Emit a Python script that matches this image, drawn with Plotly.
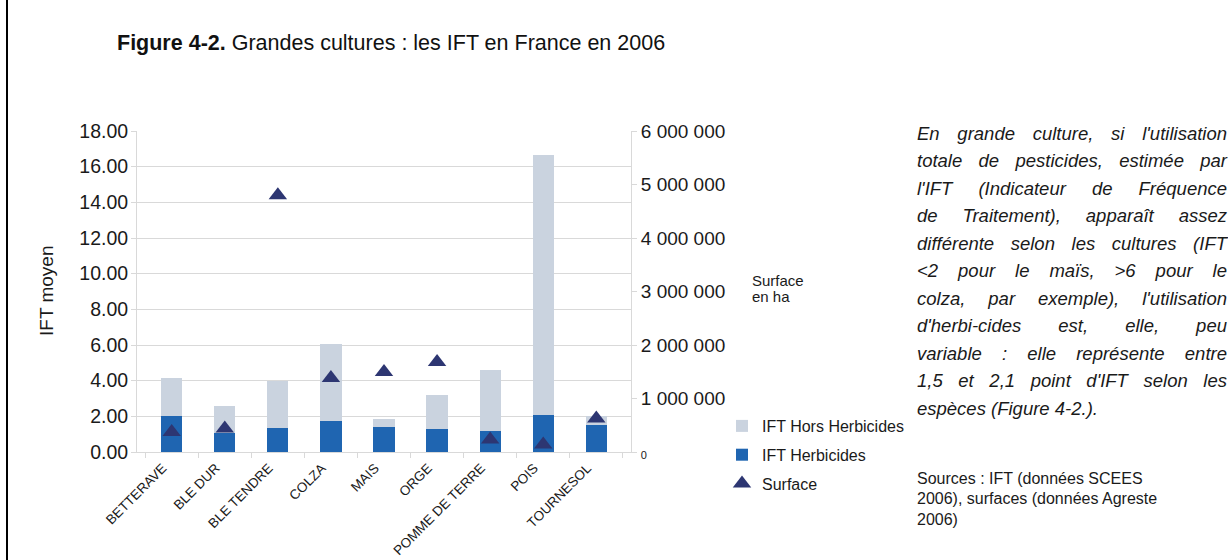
import plotly.graph_objects as go

# ---------------- data ----------------
categories = ["BETTERAVE", "BLE DUR", "BLE TENDRE", "COLZA", "MAIS",
              "ORGE", "POMME DE TERRE", "POIS", "TOURNESOL"]
ift_herbicides = [2.00, 1.07, 1.35, 1.72, 1.40, 1.27, 1.18, 2.06, 1.54]
ift_hors_herbicides = [2.17, 1.53, 2.63, 4.32, 0.45, 1.91, 3.40, 14.58, 0.46]
surface_ha = [375000, 437000, 4800000, 1385000, 1495000, 1680000, 232000, 138000, 624000]

left_ticks = [0, 2, 4, 6, 8, 10, 12, 14, 16, 18]
right_ticks = [0, 1000000, 2000000, 3000000, 4000000, 5000000, 6000000]

title_bold = "Figure 4-2."
title_rest = "Grandes cultures : les IFT en France en 2006"
legend_names = ["IFT Hors Herbicides", "IFT Herbicides", "Surface"]
note_lines = [
    "En grande culture, si l'utilisation",
    "totale de pesticides, estimée par",
    "l'IFT (Indicateur de Fréquence",
    "de Traitement), apparaît assez",
    "différente selon les cultures (IFT",
    "&lt;2 pour le maïs, &gt;6 pour le",
    "colza, par exemple), l'utilisation",
    "d'herbi-cides est, elle, peu",
    "variable : elle représente entre",
    "1,5 et 2,1 point d'IFT selon les",
    "espèces (Figure 4-2.).",
]
source_lines = [
    "Sources : IFT (données SCEES",
    "2006), surfaces (données Agreste",
    "2006)",
]

# ---------------- styling / layout helpers ----------------
W_FIG, H_FIG = 1228, 560
L, R, T, B = 137, 631, 131, 452


def fx(px):
    return (px - L) / (R - L)


def fy(py):
    return (B - py) / (B - T)


C_LIGHT = "#cad3df"
C_DARK = "#1f65b1"
C_TRI = "#2d3672"
C_GRID = "#d9d9d9"
C_TEXT = "#1a1a1a"
SANS = "Liberation Sans, Arial, sans-serif"

fig = go.Figure()
fig.add_trace(go.Bar(
    x=categories, y=ift_herbicides, name=legend_names[1],
    marker=dict(color=C_DARK, line=dict(width=0)), legendrank=2,
    legendgroup="g2",
))
fig.add_trace(go.Bar(
    x=categories, y=ift_hors_herbicides, name=legend_names[0],
    marker=dict(color=C_LIGHT, line=dict(width=0)), legendrank=1,
    legendgroup="g1",
))
fig.add_trace(go.Scatter(
    x=categories, y=surface_ha, name=legend_names[2], yaxis="y2",
    mode="markers",
    marker=dict(symbol="triangle-up", size=16, color=C_TRI, line=dict(width=0)),
    legendrank=3, legendgroup="g3",
))


def fmt_space(v):
    return f"{v:,}".replace(",", " ")


right_text = [("<span style='font-size:11px'>0</span>" if v == 0 else fmt_space(v))
              for v in right_ticks]

annotations = []
# y-axis title (left)
annotations.append(dict(
    text="IFT moyen", xref="paper", yref="paper", x=fx(46), y=fy(291),
    textangle=-90, showarrow=False, font=dict(family=SANS, size=19, color=C_TEXT),
    xanchor="center", yanchor="middle"))
# right axis title
annotations.append(dict(
    text="Surface", xref="paper", yref="paper", x=fx(750), y=fy(280),
    showarrow=False, font=dict(family=SANS, size=15, color=C_TEXT),
    xanchor="left", yanchor="middle"))
annotations.append(dict(
    text="en ha", xref="paper", yref="paper", x=fx(750), y=fy(296),
    showarrow=False, font=dict(family=SANS, size=15, color=C_TEXT),
    xanchor="left", yanchor="middle"))

justify_idx = []
for i, line in enumerate(note_lines):
    if i < len(note_lines) - 1:
        justify_idx.append(len(annotations))
    annotations.append(dict(
        text=f"<i>{line}</i>", xref="paper", yref="paper",
        x=fx(915), y=fy(133 + i * 27.5), showarrow=False,
        font=dict(family=SANS, size=18.5, color=C_TEXT),
        xanchor="left", yanchor="middle", align="left"))

for i, line in enumerate(source_lines):
    annotations.append(dict(
        text=line, xref="paper", yref="paper",
        x=fx(915), y=fy(478 + i * 20.5), showarrow=False,
        font=dict(family=SANS, size=16, color=C_TEXT),
        xanchor="left", yanchor="middle", align="left"))

fig.update_layout(
    width=W_FIG, height=H_FIG, autosize=False,
    margin=dict(l=L, r=W_FIG - R, t=T, b=H_FIG - B, pad=0, autoexpand=False),
    paper_bgcolor="white", plot_bgcolor="white",
    barmode="stack", bargap=0.6,
    font=dict(family=SANS, color=C_TEXT),
    title=dict(
        text=f"<b>{title_bold}</b> {title_rest}",
        x=117 / W_FIG, xanchor="left", xref="container",
        y=1 - 42 / H_FIG, yanchor="middle", yref="container",
        font=dict(family=SANS, size=21.5, color="#111111")),
    xaxis=dict(
        type="category", tickangle=-45, tickson="boundaries",
        ticks="outside", ticklen=5, tickcolor=C_GRID,
        ticklabelshift=-9, ticklabelstandoff=2, automargin=False,
        showline=True, linecolor=C_GRID, linewidth=1,
        showgrid=False, tickfont=dict(family=SANS, size=13.5, color=C_TEXT),
    ),
    yaxis=dict(
        range=[0, 18], tickvals=left_ticks, tickformat=".2f", automargin=False,
        showgrid=True, gridcolor=C_GRID, gridwidth=1,
        showline=True, linecolor=C_GRID, linewidth=1,
        ticks="outside", ticklen=5, tickcolor=C_GRID, ticklabelstandoff=-1,
        zeroline=False, tickfont=dict(family=SANS, size=19.5, color=C_TEXT),
    ),
    yaxis2=dict(
        range=[0, 6000000], overlaying="y", side="right", automargin=False,
        tickvals=right_ticks, ticktext=right_text,
        showgrid=False, showline=True, linecolor=C_GRID, linewidth=1,
        ticks="outside", ticklen=5, tickcolor=C_GRID, zeroline=False,
        tickfont=dict(family=SANS, size=19, color=C_TEXT),
    ),
    legend=dict(
        x=fx(722), y=fy(409), xanchor="left", yanchor="top",
        traceorder="grouped", tracegroupgap=5,
        font=dict(family=SANS, size=16, color=C_TEXT),
        bgcolor="rgba(0,0,0,0)", borderwidth=0, itemsizing="trace",
    ),
    annotations=annotations,
    shapes=[dict(type="line", xref="paper", yref="paper",
                 x0=fx(7), x1=fx(7), y0=fy(H_FIG + 5), y1=fy(-5),
                 line=dict(color="#000000", width=2))],
    hovermode=False,
)

justify_js = """
(function(){
  document.body.style.margin = '0';
  document.body.style.padding = '0';
  document.body.style.overflow = 'hidden';
  var idx = %s;
  var target = %d;
  function justify(){
    document.querySelectorAll('g.annotation').forEach(function(g){
      var i = parseInt(g.getAttribute('data-index'));
      if (idx.indexOf(i) < 0) return;
      var t = g.querySelector('text.annotation-text');
      if (!t) return;
      t.style.wordSpacing = '0px';
      var len = t.getComputedTextLength();
      var n = (t.textContent.match(/ /g) || []).length;
      if (n > 0) {
        t.style.wordSpacing = ((target - len) / n) + 'px';
      }
    });
  }
  justify();
  var gd = document.getElementsByClassName('plotly-graph-div')[0];
  if (gd && gd.on) gd.on('plotly_afterplot', justify);
})();
""" % (str(justify_idx), 1225 - 915)

fig.write_html("out.html", post_script=justify_js, config={"displayModeBar": False})
